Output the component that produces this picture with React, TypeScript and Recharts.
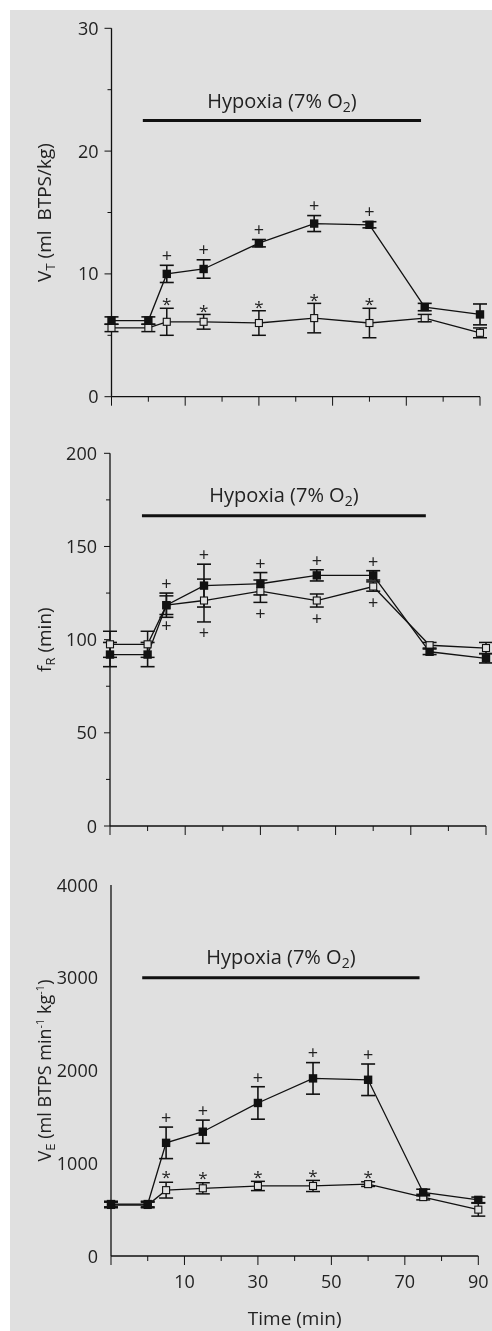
import React from 'react';
import { ComposedChart, Line, XAxis, YAxis, ErrorBar, ReferenceLine, LabelList } from 'recharts';

const BG = '#e0e0e0';
const INK = '#111';
const TXT = '#222';
const FONT = '"Open Sans", "DejaVu Sans", sans-serif';

// time points (min) and x ticks
const times = [-10, 0, 5, 15, 30, 45, 60, 75, 90];
const timeTicks = [-10, 0, 10, 20, 30, 40, 50, 60, 70, 80, 90];
const timeLabels = [10, 30, 50, 70, 90];
const hypoxiaSpan = [-1.5, 74];

// tidal volume V_T
const vtFilled = [6.2, 6.2, 10.0, 10.4, 12.5, 14.1, 14.0, 7.3, 6.7];
const vtFilledErr = [0.3, 0.3, 0.7, 0.75, 0.3, 0.65, 0.25, 0.3, 0.85];
const vtOpen = [5.6, 5.6, 6.1, 6.1, 6.0, 6.4, 6.0, 6.4, 5.2];
const vtOpenErr = [0.3, 0.3, 1.1, 0.6, 1.0, 1.2, 1.2, 0.3, 0.4];
const vtFilledSig = ['', '', '+', '+', '+', '+', '+', '', ''];
const vtOpenSig = ['', '', '*', '*', '*', '*', '*', '', ''];
const vtTicks = [0, 5, 10, 15, 20, 25, 30];
const vtLabels = [0, 10, 20, 30];
const vtBarLevel = 22.5;

// breathing frequency f_R
const frFilled = [92, 92, 118.5, 129, 130, 134.5, 134.5, 93.5, 90];
const frFilledErr = [6.5, 6.5, 6.5, 11.5, 6, 3, 2.5, 1.5, 2.5];
const frOpen = [97.5, 97.5, 118.5, 121, 126, 121, 128.5, 97, 95.5];
const frOpenErr = [7, 7, 5, 11.5, 6, 3.5, 2.5, 1.5, 3];
const frFilledSig = ['', '', '+', '+', '+', '+', '+', '', ''];
const frOpenSig = ['', '', '+', '+', '+', '+', '+', '', ''];
const frTicks = [0, 25, 50, 75, 100, 125, 150, 175, 200];
const frLabels = [0, 50, 100, 150, 200];
const frBarLevel = 166.5;

// minute ventilation V_E
const veFilled = [560, 560, 1220, 1340, 1650, 1915, 1900, 685, 605];
const veFilledErr = [30, 30, 170, 125, 175, 170, 170, 35, 30];
const veOpen = [550, 550, 710, 730, 755, 755, 775, 635, 500];
const veOpenErr = [30, 30, 85, 60, 50, 60, 25, 30, 70];
const veFilledSig = ['', '', '+', '+', '+', '+', '+', '', ''];
const veOpenSig = ['', '', '*', '*', '*', '*', '*', '', ''];
const veTicks = [0, 1000, 2000, 3000, 4000];
const veLabels = [0, 1000, 2000, 3000, 4000];
const veBarLevel = 3000;

const buildRows = (f: number[], fe: number[], o: number[], oe: number[], fs: string[], os: string[]) =>
  times.map((t, i) => ({
    t,
    f: f[i],
    fe: fe[i],
    o: o[i],
    oe: oe[i],
    fTop: f[i] + fe[i],
    oTop: o[i] + oe[i],
    oBot: o[i] - oe[i],
    fSig: fs[i],
    oSig: os[i],
  }));

const FilledSquare = (p: any) =>
  p.cx == null ? null : <rect key={p.key} x={p.cx - 4.2} y={p.cy - 4.2} width={8.4} height={8.4} fill={INK} />;

const OpenSquare = (p: any) =>
  p.cx == null ? null : (
    <rect key={p.key} x={p.cx - 3.5} y={p.cy - 3.5} width={7} height={7} fill={BG} stroke={INK} strokeWidth={1.1} />
  );

// significance marks, dy = offset of the glyph centre from the anchor point
const markContent = (dy: number) => (props: any) => {
  const { x, y, value } = props;
  if (!value) return null;
  const star = value === '*';
  const size = star ? 17 : 18;
  const lift = star ? 0.6 * size : 0.36 * size;
  return (
    <text x={x} y={y + dy + lift} textAnchor="middle" fontSize={size} fill={TXT} style={{ fontFamily: FONT }}>
      {value}
    </text>
  );
};

const makeYTick = (labels: number[], majorLen: number, minorLen: number) => (p: any) => {
  const { x, y, payload } = p;
  const v = payload.value;
  const major = labels.includes(v);
  const len = major ? majorLen : minorLen;
  return (
    <g>
      {len > 0 && <line x1={x - len} x2={x} y1={y} y2={y} stroke={INK} strokeWidth={1} />}
      {major && (
        <text x={x - 13} y={y + 6.5} textAnchor="end" fontSize={18} fill={TXT} style={{ fontFamily: FONT }}>
          {v}
        </text>
      )}
    </g>
  );
};

const makeXTick = (showLabels: boolean) => (p: any) => {
  const { x, y, payload } = p;
  const v = payload.value;
  const major = Math.abs(v % 20) === 10;
  return (
    <g>
      <line x1={x} x2={x} y1={y} y2={y + (major ? 9 : 5)} stroke={INK} strokeWidth={1} />
      {showLabels && timeLabels.includes(v) && (
        <text x={x} y={y + 32} textAnchor="middle" fontSize={18} fill={TXT} style={{ fontFamily: FONT }}>
          {v}
        </text>
      )}
    </g>
  );
};

const hypoxiaLabel = (gap: number) => (props: any) => {
  const vb = props.viewBox || {};
  const cx = vb.x + (vb.width || 0) / 2;
  const y = vb.y - gap;
  return (
    <text x={cx} y={y} textAnchor="middle" fontSize={20} fill={TXT} style={{ fontFamily: FONT }}>
      Hypoxia (7% O
      <tspan fontSize={14} dy={4}>2</tspan>
      <tspan dy={-4}>)</tspan>
    </text>
  );
};

const yLabelVT = (
  <>
    V<tspan fontSize={13} dy={4}>T</tspan>
    <tspan dy={-4}> (ml{'\u00a0'} BTPS/kg)</tspan>
  </>
);
const yLabelFR = (
  <>
    f<tspan fontSize={13} dy={4}>R</tspan>
    <tspan dy={-4}> (min)</tspan>
  </>
);
const yLabelVE = (
  <>
    V<tspan fontSize={13} dy={4}>E</tspan>
    <tspan dy={-4}> (ml BTPS min</tspan>
    <tspan fontSize={11} dy={-7}>-1</tspan>
    <tspan dy={7}> kg</tspan>
    <tspan fontSize={11} dy={-7}>-1</tspan>
    <tspan dy={7}>)</tspan>
  </>
);

const yLabelContent = (content: React.ReactNode, dy: number, size: number) => (props: any) => {
  const vb = props.viewBox || {};
  const cx = 51;
  const cy = vb.y + vb.height / 2 + dy;
  return (
    <text x={cx} y={cy} transform={`rotate(-90 ${cx} ${cy})`} textAnchor="middle" fontSize={size} fill={TXT} style={{ fontFamily: FONT }}>
      {content}
    </text>
  );
};

type PanelProps = {
  top: number;
  height: number;
  margin: { top: number; right: number; bottom: number; left: number };
  yWidth: number;
  xHeight: number;
  rows: ReturnType<typeof buildRows>;
  yDomain: [number, number];
  yTicks: number[];
  yLabels: number[];
  yMajorLen: number;
  yMinorLen: number;
  yLabel: React.ReactNode;
  yLabelDy: number;
  yLabelSize: number;
  barLevel: number;
  barGap: number;
  xLabels: boolean;
  fMarkDy: number;
  oMarkDy: number;
  oMarkBelow: boolean;
};

function Panel(pp: PanelProps) {
  return (
    <div style={{ position: 'absolute', left: 0, top: pp.top }}>
      <ComposedChart width={492} height={pp.height} data={pp.rows} margin={pp.margin}>
        <XAxis
          dataKey="t"
          type="number"
          domain={[-10, 90]}
          ticks={timeTicks}
          interval={0}
          height={pp.xHeight}
          stroke={INK}
          strokeWidth={1.3}
          tickLine={false}
          tickSize={0}
          tickMargin={0}
          tick={makeXTick(pp.xLabels)}
          label={
            pp.xLabels
              ? {
                  content: (props: any) => {
                    const vb = props.viewBox || {};
                    return (
                      <text x={vb.x + vb.width / 2} y={vb.y + 68.5} textAnchor="middle" fontSize={19} fill={TXT} style={{ fontFamily: FONT }}>
                        Time (min)
                      </text>
                    );
                  },
                }
              : undefined
          }
        />
        <YAxis
          type="number"
          domain={pp.yDomain}
          ticks={pp.yTicks}
          interval={0}
          width={pp.yWidth}
          stroke={INK}
          strokeWidth={1.3}
          tickLine={false}
          tickSize={0}
          tickMargin={0}
          tick={makeYTick(pp.yLabels, pp.yMajorLen, pp.yMinorLen)}
          label={{ content: yLabelContent(pp.yLabel, pp.yLabelDy, pp.yLabelSize) }}
        />
        <ReferenceLine
          segment={[
            { x: hypoxiaSpan[0], y: pp.barLevel },
            { x: hypoxiaSpan[1], y: pp.barLevel },
          ]}
          stroke={INK}
          strokeWidth={3}
          label={{ content: hypoxiaLabel(pp.barGap) }}
        />
        <Line
          dataKey="o"
          stroke={INK}
          strokeWidth={1.3}
          dot={OpenSquare}
          activeDot={false}
          isAnimationActive={false}
        >
          <ErrorBar dataKey="oe" width={7} stroke={INK} strokeWidth={1.5} direction="y" />
        </Line>
        <Line
          dataKey="f"
          stroke={INK}
          strokeWidth={1.3}
          dot={FilledSquare}
          activeDot={false}
          isAnimationActive={false}
        >
          <ErrorBar dataKey="fe" width={7} stroke={INK} strokeWidth={1.6} direction="y" />
        </Line>
        <Line dataKey="fTop" stroke="none" dot={false} activeDot={false} isAnimationActive={false}>
          <LabelList dataKey="fSig" content={markContent(pp.fMarkDy)} />
        </Line>
        <Line
          dataKey={pp.oMarkBelow ? 'oBot' : 'oTop'}
          stroke="none"
          dot={false}
          activeDot={false}
          isAnimationActive={false}
        >
          <LabelList dataKey="oSig" content={markContent(pp.oMarkDy)} />
        </Line>
      </ComposedChart>
    </div>
  );
}

export default function App() {
  const vtRows = buildRows(vtFilled, vtFilledErr, vtOpen, vtOpenErr, vtFilledSig, vtOpenSig);
  const frRows = buildRows(frFilled, frFilledErr, frOpen, frOpenErr, frFilledSig, frOpenSig);
  const veRows = buildRows(veFilled, veFilledErr, veOpen, veOpenErr, veFilledSig, veOpenSig);

  return (
    <div
      style={{
        position: 'absolute',
        left: 0,
        top: 0,
        width: 492,
        height: 1331,
        background: '#fff',
        overflow: 'hidden',
        filter: 'grayscale(1)',
      }}
    >
      <div style={{ position: 'absolute', left: 10, top: 10, right: 0, bottom: 0, background: BG }} />
      <Panel
        top={0}
        height={440}
        margin={{ top: 28.3, right: 12, bottom: 13.3, left: 0 }}
        yWidth={111.5}
        xHeight={30}
        rows={vtRows}
        yDomain={[0, 30]}
        yTicks={vtTicks}
        yLabels={vtLabels}
        yMajorLen={7}
        yMinorLen={4}
        yLabel={yLabelVT}
        yLabelDy={0}
        yLabelSize={19}
        barLevel={vtBarLevel}
        barGap={12}
        xLabels={false}
        fMarkDy={-10}
        oMarkDy={-8}
        oMarkBelow={false}
      />
      <Panel
        top={420}
        height={440}
        margin={{ top: 33.3, right: 6, bottom: 4, left: 0 }}
        yWidth={110}
        xHeight={30}
        rows={frRows}
        yDomain={[0, 200]}
        yTicks={frTicks}
        yLabels={frLabels}
        yMajorLen={6}
        yMinorLen={4}
        yLabel={yLabelFR}
        yLabelDy={0}
        yLabelSize={19}
        barLevel={frBarLevel}
        barGap={14}
        xLabels={false}
        fMarkDy={-9.5}
        oMarkDy={11}
        oMarkBelow={true}
      />
      <Panel
        top={860}
        height={471}
        margin={{ top: 25, right: 13.7, bottom: 0, left: 0 }}
        yWidth={111}
        xHeight={75}
        rows={veRows}
        yDomain={[0, 4000]}
        yTicks={veTicks}
        yLabels={veLabels}
        yMajorLen={0}
        yMinorLen={0}
        yLabel={yLabelVE}
        yLabelDy={0}
        yLabelSize={18}
        barLevel={veBarLevel}
        barGap={14}
        xLabels={true}
        fMarkDy={-9.7}
        oMarkDy={-9}
        oMarkBelow={false}
      />
    </div>
  );
}
